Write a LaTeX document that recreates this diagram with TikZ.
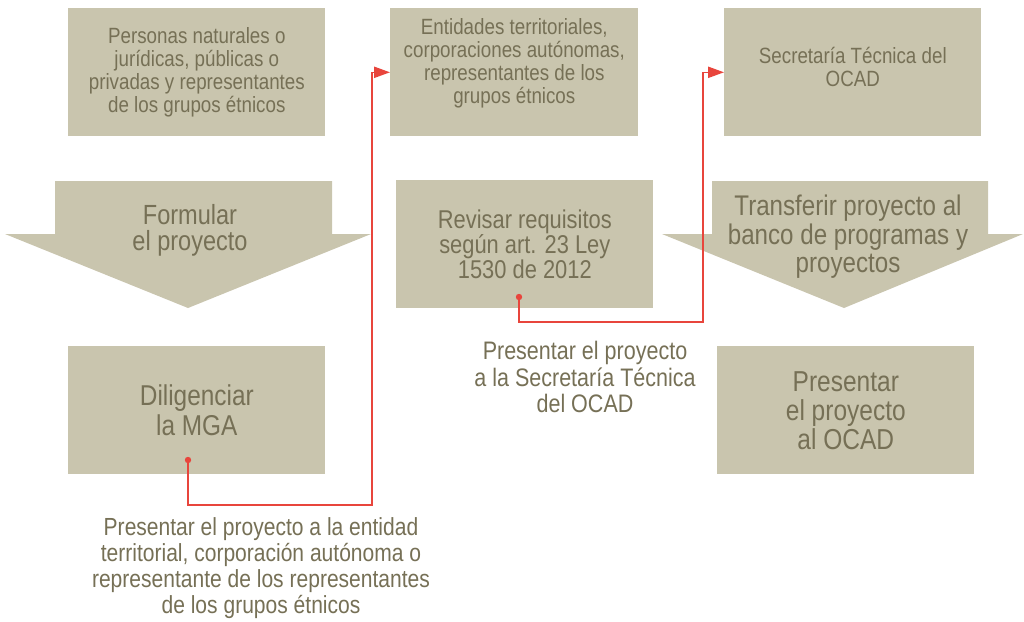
\documentclass[tikz,border=0pt]{standalone}
\usepackage{fontspec}
\setmainfont{Liberation Sans}[FakeStretch=0.85]
\usetikzlibrary{positioning,arrows.meta}
\definecolor{khaki}{HTML}{C9C5AE}
\definecolor{inkolive}{HTML}{767056}
\definecolor{signal}{HTML}{E8453C}
\tikzstyle{block}=[rectangle, fill=khaki, text=inkolive, align=center, inner sep=0pt,
        anchor=north west, minimum width=6.425cm, minimum height=3.2cm,
        font=\fontsize{15.7}{16.4}\selectfont]
\tikzstyle{bigblock}=[block, font=\fontsize{20.3}{20.8}\selectfont]
\tikzstyle{caption}=[text=inkolive, align=center, inner sep=0pt,
        font=\fontsize{18}{18.6}\selectfont]
\tikzstyle{link}=[draw=signal, line width=1.1pt, -{Triangle[length=0.4cm,width=0.28cm]}]
\tikzstyle{reddot}=[circle, fill=signal, inner sep=0pt, minimum size=0.16cm]

\begin{document}
\begin{tikzpicture}[x=0.025cm, y=-0.025cm]
        \useasboundingbox (0,0) rectangle (1024,621);
        % top row
        \node (personas) [block] at (68,8)
        {Personas naturales o\\jurídicas, públicas o\\privadas y representantes\\de los grupos étnicos};
        \node (entidades) [block, minimum width=6.2cm, text depth=0.55cm] at (390,8)
        {Entidades territoriales,\\corporaciones autónomas,\\representantes de los\\grupos étnicos};
        \node (secretaria) [block, text depth=0.28cm] at (724,8)
        {Secretaría Técnica del\\OCAD};
        % big arrows
        \fill[khaki] (55,181) -- (332,181) -- (332,234) -- (371,234) -- (188,308) -- (5,234) -- (55,234) -- cycle;
        \fill[khaki] (712,181) -- (988,181) -- (988,234) -- (1023,234) -- (844,308) -- (662,234) -- (712,234) -- cycle;
        \node (formular) [caption, font=\fontsize{19.7}{18.5}\selectfont] at (190,230)
        {Formular\\el proyecto};
        \node (transferir) [caption, font=\fontsize{20.2}{20.3}\selectfont] at (848,237)
        {Transferir proyecto al\\banco de programas y\\proyectos};
        \node (revisar) [block, minimum height=3.2cm, font=\fontsize{18.3}{17.8}\selectfont] at (396,180)
        {Revisar requisitos\\según art. 23 Ley\\1530 de 2012};
        % bottom row
        \node (diligenciar) [bigblock, font=\fontsize{20.4}{21.3}\selectfont] at (68,346)
        {Diligenciar\\la MGA};
        \node (ocad) [bigblock, font=\fontsize{20.5}{20.6}\selectfont] at (717,346)
        {Presentar\\el proyecto\\al OCAD};
        % red connectors
        \node (diligDot) [reddot] at (188,460) {};
        \node (revisarDot) [reddot] at (519,297) {};
        \draw[link] (diligDot) -- ++(0,45) -| ([xshift=-0.45cm]entidades.west) -- (entidades.west);
        \draw[link] (revisarDot) -- ++(0,25) -| ([xshift=-0.525cm]secretaria.west) -- (secretaria.west);
        \node (envio) [caption] at (585,377)
        {Presentar el proyecto\\a la Secretaría Técnica\\del OCAD};
        \node (radicar) [caption, font=\fontsize{17.6}{18.3}\selectfont] at (261,568)
        {Presentar el proyecto a la entidad\\territorial, corporación autónoma o\\representante de los representantes\\de los grupos étnicos};
\end{tikzpicture}
\end{document}
